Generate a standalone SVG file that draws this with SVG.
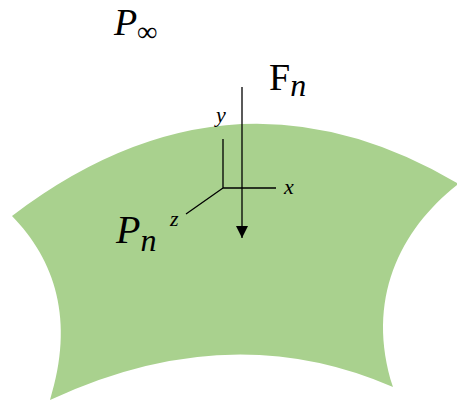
<svg xmlns="http://www.w3.org/2000/svg" width="457" height="400" viewBox="0 0 457 400">
<style>
.lbl{font-family:"Liberation Serif","DejaVu Serif",serif;fill:#000}
.it{font-style:italic}
.ax{stroke:#000;stroke-width:1.3;fill:none}
</style>
<defs>
<marker id="ah" markerWidth="12" markerHeight="12" refX="12" refY="6" orient="auto" markerUnits="userSpaceOnUse" viewBox="0 0 12 12">
<path d="M0,0 L12,6 L0,12 Z" fill="#000"/>
</marker>
</defs>
<g id="surface">
<path d="M12,216 Q230,50 457,183 L457,185 C400,230 365,300 393,387 Q230,316 50,400 C75,320 55,260 12,216 Z" fill="#a9d18e"/>
</g>
<g id="labels">
<text class="lbl it" x="114" y="35" font-size="38">P<tspan font-size="28" dy="6">∞</tspan></text>
<text class="lbl" x="269" y="90" font-size="38">F<tspan class="it" font-size="32" dy="6">n</tspan></text>
<text class="lbl it" x="116" y="243" font-size="40">P<tspan font-size="32" dy="8">n</tspan></text>
<text class="lbl it" x="216" y="122" font-size="22">y</text>
<text class="lbl it" x="284" y="194" font-size="22">x</text>
<text class="lbl it" x="170" y="226" font-size="22">z</text>
</g>
<g id="connectors">
<path class="ax" d="M223,139 V188 H276 M223,188 L186,214"/>
<path class="ax" d="M242,87 V238" marker-end="url(#ah)"/>
</g>
</svg>
